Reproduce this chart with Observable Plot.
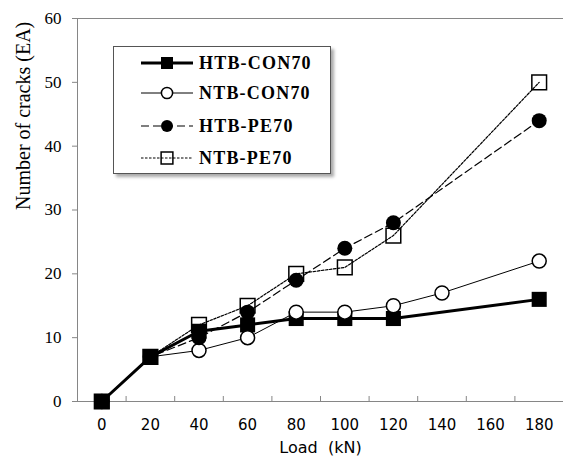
<!DOCTYPE html>
<html><head><meta charset="utf-8">
<script src="https://cdn.jsdelivr.net/npm/d3@7"></script>
<script src="https://cdn.jsdelivr.net/npm/@observablehq/plot@0.6"></script>
<style>
body{margin:0;background:#fff}
#wrap{position:relative;width:563px;height:464px}
#legend{position:absolute;left:113px;top:46px;width:216px;height:126px;border:1px solid #555;background:#fff;box-shadow:3px 3px 3px #aaa}
#legend svg{display:block}
</style></head>
<body><div id="wrap"><div id="legend"></div></div>
<script>
// ---- data ----
const seriesNames = ["HTB-CON70", "NTB-CON70", "HTB-PE70", "NTB-PE70"];
const htbConLoads = [0, 20, 40, 60, 80, 100, 120, 180];
const htbConCracks = [0, 7, 11, 12, 13, 13, 13, 16];
const ntbConLoads = [0, 20, 40, 60, 80, 100, 120, 140, 180];
const ntbConCracks = [0, 7, 8, 10, 14, 14, 15, 17, 22];
const htbPeLoads = [0, 20, 40, 60, 80, 100, 120, 180];
const htbPeCracks = [0, 7, 10, 14, 19, 24, 28, 44];
const ntbPeLoads = [0, 20, 40, 60, 80, 100, 120, 180];
const ntbPeCracks = [0, 7, 12, 15, 20, 21, 26, 50];
const xTicks = [0, 20, 40, 60, 80, 100, 120, 140, 160, 180];
const xBoundaries = [10, 30, 50, 70, 90, 110, 130, 150, 170];
const yTicks = [0, 10, 20, 30, 40, 50, 60];
const xDomain = [-10, 190];
const yDomain = [0, 60];

const toRows = (xs, ys) => xs.map((x, i) => ({load: x, cracks: ys[i]}));
const htbCon = toRows(htbConLoads, htbConCracks);
const ntbCon = toRows(ntbConLoads, ntbConCracks);
const htbPe = toRows(htbPeLoads, htbPeCracks);
const ntbPe = toRows(ntbPeLoads, ntbPeCracks);

const styles = [
  {line: {stroke: "#000", strokeWidth: 3}, dot: {symbol: "square", r: 8.5, fill: "#000", stroke: "none"}},
  {line: {stroke: "#000", strokeWidth: 1}, dot: {symbol: "circle", r: 7, fill: "#fff", stroke: "#000", strokeWidth: 1.5}},
  {line: {stroke: "#000", strokeWidth: 1.2, strokeDasharray: "8,4"}, dot: {symbol: "circle", r: 7.5, fill: "#000", stroke: "none"}},
  {line: {stroke: "#000", strokeWidth: 1.2, strokeDasharray: "2.5,1.5"}, dot: {symbol: "square", r: 8.3, fill: "none", stroke: "#000", strokeWidth: 1.5}}
];
const datasets = [htbCon, ntbCon, htbPe, ntbPe];

const axisGray = "#868686";
const marks = [
  Plot.ruleY([yDomain[1]], {stroke: axisGray}),
  Plot.ruleY([yDomain[0]], {stroke: axisGray}),
  Plot.ruleX([xDomain[0]], {stroke: axisGray}),
  Plot.ruleX(xBoundaries, {y1: 0, y2: 0, insetTop: -5, stroke: axisGray}),
  Plot.axisY({ticks: yTicks, tickSize: 5, tickPadding: 11, stroke: axisGray, fill: "#000",
    fontSize: 17, fontFamily: "Liberation Serif", letterSpacing: "1px", label: null}),
  Plot.axisX({ticks: xTicks, tickSize: 0, tickPadding: 18, fill: "#000",
    fontSize: 15, fontFamily: "DejaVu Sans", label: null}),
  Plot.text(["Number of cracks (EA)"], {frameAnchor: "left", rotate: -90, dx: -54,
    fontSize: 20, fontFamily: "Liberation Serif", fill: "#000"}),
  Plot.text(["Load\u00a0 (kN)"], {frameAnchor: "bottom", dy: 51,
    fontSize: 16, fontFamily: "DejaVu Sans", fill: "#000"})
];
datasets.forEach((d, i) => {
  marks.push(Plot.line(d, {x: "load", y: "cracks", ...styles[i].line}));
  marks.push(Plot.dot(d, {x: "load", y: "cracks", ...styles[i].dot}));
});

const chart = Plot.plot({
  width: 563, height: 464,
  marginLeft: 77, marginRight: 0, marginTop: 18, marginBottom: 63,
  x: {domain: xDomain},
  y: {domain: yDomain},
  style: {background: "#fff", overflow: "visible"},
  marks
});
const wrap = document.getElementById("wrap");
wrap.insertBefore(chart, wrap.firstChild);

// legend
const lg = d3.select("#legend").append("svg").attr("width", 216).attr("height", 126);
const rowY = [16, 46, 79, 111];
seriesNames.forEach((name, i) => {
  const g = lg.append("g").attr("transform", `translate(0,${rowY[i]})`);
  const s = styles[i];
  g.append("line").attr("x1", 27).attr("x2", 79).attr("y1", 0).attr("y2", 0)
    .attr("stroke", s.line.stroke).attr("stroke-width", s.line.strokeWidth)
    .attr("stroke-dasharray", s.line.strokeDasharray || null);
  const sym = s.dot.symbol === "square" ? d3.symbolSquare : d3.symbolCircle;
  const r = s.dot.r * 0.8;
  g.append("path").attr("transform", "translate(53,0)")
    .attr("d", d3.symbol(sym, r * r * Math.PI)())
    .attr("fill", s.dot.fill).attr("stroke", s.dot.stroke)
    .attr("stroke-width", s.dot.strokeWidth || null);
  g.append("text").attr("x", 85).attr("y", 0).attr("dy", "0.35em")
    .attr("font-family", "Liberation Serif").attr("font-weight", "bold")
    .attr("font-size", 18).attr("letter-spacing", "1.2px").attr("fill", "#000")
    .text(name);
});
</script></body></html>
